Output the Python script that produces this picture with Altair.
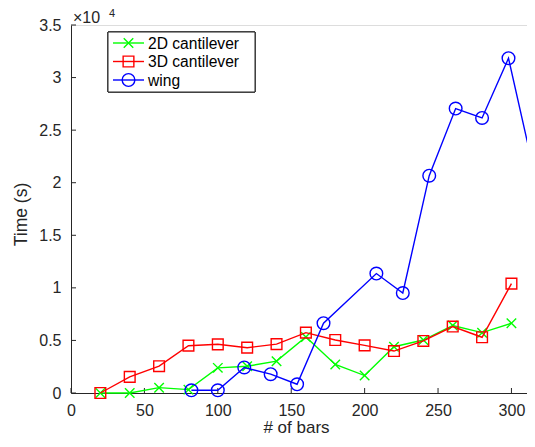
import altair as alt
import pandas as pd

# ---- data ----
bars_2d = [20, 40, 60, 80, 100, 120, 140, 160, 180, 200, 220, 240, 260, 280, 300]
time_2d = [0, 0, 510, 320, 2390, 2550, 3030, 5330, 2720, 1660, 4400, 5040, 6410, 5740, 6640]

bars_3d = [20, 40, 60, 80, 100, 120, 140, 160, 180, 200, 220, 240, 260, 280, 300]
time_3d = [0, 1530, 2550, 4500, 4630, 4310, 4650, 5740, 5040, 4530, 3990, 4950, 6320, 5300, 10400]

bars_wing = [82, 100, 118, 136, 154, 172, 208, 226, 244, 262, 280, 298, 316]
time_wing = [260, 260, 2430, 1790, 830, 6640, 11360, 9510, 20670, 27050, 26160, 31840, 20670]

series_names = ["2D cantilever", "3D cantilever", "wing"]
series_colors = ["#00ff00", "#ff0000", "#0000ff"]
series_shapes = ["M-1,-1L1,1M-1,1L1,-1", "square", "circle"]
series_sizes = [90, 115, 160]

x_ticks = [0, 50, 100, 150, 200, 250, 300]
y_ticks = [0, 5000, 10000, 15000, 20000, 25000, 30000, 35000]

W, H = 456, 368
AX = "#262626"
FONT = "Liberation Sans"

frames = [
    pd.DataFrame({"bars": bars_2d, "time": time_2d, "series": series_names[0]}),
    pd.DataFrame({"bars": bars_3d, "time": time_3d, "series": series_names[1]}),
    pd.DataFrame({"bars": bars_wing, "time": time_wing, "series": series_names[2]}),
]

xscale = alt.Scale(domain=[0, 310.6], nice=False, zero=False)
yscale = alt.Scale(domain=[0, 35000], nice=False)

xaxis = alt.Axis(values=x_ticks, ticks=False, grid=False, domainColor=AX, domainWidth=1,
                 labelColor=AX, labelFontSize=16, labelFont=FONT, labelPadding=9,
                 labelFlush=False, labelOverlap=False,
                 title="# of bars", titleFont=FONT, titleFontSize=17, titleFontWeight="normal",
                 titleColor=AX, titleX=225, titleY=39, titleBaseline="alphabetic", titleAlign="center")
yaxis = alt.Axis(values=y_ticks, ticks=False, grid=False, domainColor=AX, domainWidth=1,
                 labelColor=AX, labelFontSize=16, labelFont=FONT, labelPadding=10,
                 labelFlush=False, labelOverlap=False,
                 labelExpr="format(datum.value/10000, '~g')",
                 title="Time (s)", titleFont=FONT, titleFontSize=17.5, titleFontWeight="normal",
                 titleColor=AX, titleX=-50, titleY=189, titleAngle=-90,
                 titleBaseline="middle", titleAlign="center")

layers = []

# axes (domain lines + labels) via an invisible layer
base_df = pd.concat(frames, ignore_index=True)
layers.append(
    alt.Chart(base_df).mark_point(opacity=0, clip=True).encode(
        x=alt.X("bars:Q", scale=xscale, axis=xaxis),
        y=alt.Y("time:Q", scale=yscale, axis=yaxis),
    )
)

# inward ticks
xt = pd.DataFrame({"t": x_ticks})
yt = pd.DataFrame({"t": y_ticks})
layers.append(
    alt.Chart(xt).mark_rule(color=AX, strokeWidth=1).encode(
        x=alt.X("t:Q", scale=xscale), y=alt.value(H), y2=alt.value(H - 5))
)
layers.append(
    alt.Chart(yt).mark_rule(color=AX, strokeWidth=1).encode(
        y=alt.Y("t:Q", scale=yscale), x=alt.value(0), x2=alt.value(5))
)

# series
for df, name, col, shp, sz in zip(frames, series_names, series_colors, series_shapes, series_sizes):
    layers.append(
        alt.Chart(df).mark_line(color=col, strokeWidth=1.4, clip=False).encode(
            x=alt.X("bars:Q", scale=xscale), y=alt.Y("time:Q", scale=yscale))
    )
    layers.append(
        alt.Chart(df).mark_point(color=col, shape=shp, size=sz, filled=False,
                                 strokeWidth=1.4, opacity=1, clip=False).encode(
            x=alt.X("bars:Q", scale=xscale), y=alt.Y("time:Q", scale=yscale))
    )

# legend (manual)
leg_df = pd.DataFrame({"series": series_names})
layers.append(
    alt.Chart(leg_df).mark_rect(fill="white", stroke=AX, strokeWidth=1).encode(
        x=alt.value(37), x2=alt.value(184), y=alt.value(7), y2=alt.value(67))
)
row_y = [18, 36.5, 55]
for i, (name, col, shp, sz) in enumerate(zip(series_names, series_colors, series_shapes, series_sizes)):
    one = leg_df[leg_df["series"] == name]
    layers.append(
        alt.Chart(one).mark_rule(color=col, strokeWidth=1.4).encode(
            x=alt.value(42), x2=alt.value(73), y=alt.value(row_y[i]))
    )
    layers.append(
        alt.Chart(one).mark_point(color=col, shape=shp, size=sz, filled=False,
                                  strokeWidth=1.4, opacity=1).encode(
            x=alt.value(57.5), y=alt.value(row_y[i]))
    )
    layers.append(
        alt.Chart(one).mark_text(align="left", baseline="middle", font=FONT, fontSize=15.6,
                                 color="black").encode(
            x=alt.value(77), y=alt.value(row_y[i] + 0.5), text="series:N")
    )

# x10^4 exponent label
exp_df = pd.DataFrame({"base": ["×10"], "exp": ["4"]})
layers.append(
    alt.Chart(exp_df).mark_text(align="left", baseline="middle", font=FONT, fontSize=16,
                                color=AX).encode(x=alt.value(2), y=alt.value(-7), text="base:N")
)
layers.append(
    alt.Chart(exp_df).mark_text(align="left", baseline="middle", font=FONT, fontSize=11,
                                color=AX).encode(x=alt.value(38), y=alt.value(-11), text="exp:N")
)

chart = alt.layer(*layers).properties(
    width=W, height=H,
    autosize=alt.AutoSizeParams(type="none"),
    padding={"left": 63, "top": 17, "right": 0, "bottom": 40},
).configure_view(stroke=None).configure(background="white")

chart.save("out.html", embed_options={"renderer": "svg", "actions": False})
